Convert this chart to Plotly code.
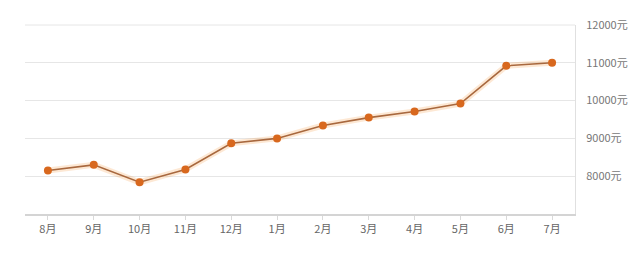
import plotly.graph_objects as go

months = ["8月", "9月", "10月", "11月", "12月", "1月", "2月", "3月", "4月", "5月", "6月", "7月"]
prices = [8150, 8300, 7840, 8180, 8870, 9000, 9340, 9550, 9710, 9920, 10920, 11000]
ytick_vals = [8000, 9000, 10000, 11000, 12000]
ytick_text = ["8000元", "9000元", "10000元", "11000元", "12000元"]

fig = go.Figure()
# soft glow beneath line
fig.add_trace(go.Scatter(x=months, y=prices, mode="lines",
                         line=dict(color="rgba(245,150,60,0.22)", width=6),
                         hoverinfo="skip", showlegend=False))
fig.add_trace(go.Scatter(x=months, y=prices, mode="lines+markers",
                         line=dict(color="#a8683e", width=1.6),
                         marker=dict(color="#d8681e", size=8, line=dict(width=0)),
                         showlegend=False))

# top border line (gridline at range edge)
fig.add_shape(type="line", xref="x domain", yref="y domain", x0=0, x1=1, y0=1, y1=1,
              line=dict(color="#e6e6e6", width=1))

fig.update_layout(
    width=640, height=254,
    margin=dict(l=25, r=61, t=25, b=40),
    paper_bgcolor="white", plot_bgcolor="white",
    font=dict(family="Noto Sans CJK SC, sans-serif", size=11, color="#666"),
    xaxis=dict(type="category", range=[-0.5, 11.5], showgrid=False,
               showline=True, linecolor="#d4d4d4", linewidth=1.5,
               ticks="outside", ticklen=4, tickcolor="#d9d9d9",
               tickfont=dict(size=11, color="#666")),
    yaxis=dict(side="right", range=[7000, 12000], tickvals=ytick_vals, ticktext=ytick_text,
               showgrid=True, gridcolor="#e6e6e6", gridwidth=1,
               showline=True, linecolor="#e0e0e0", linewidth=1,
               ticks="", zeroline=False, ticklabelstandoff=8,
               tickfont=dict(size=11, color="#777")),
)

fig.write_html("out.html")
